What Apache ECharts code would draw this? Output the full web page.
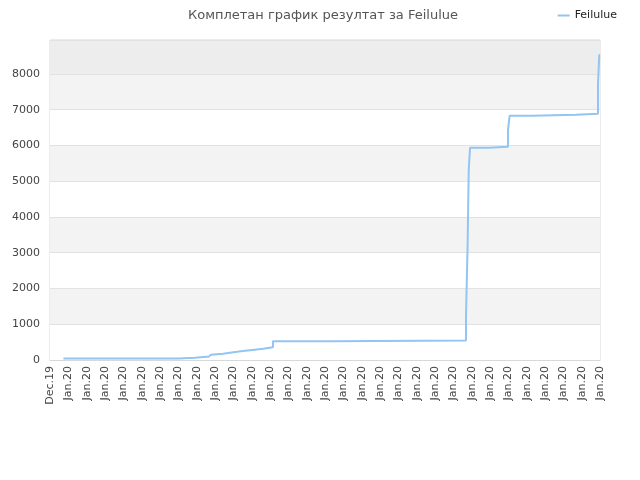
<!DOCTYPE html>
<html>
<head>
<meta charset="utf-8">
<script src="https://cdn.jsdelivr.net/npm/echarts@6/dist/echarts.min.js"></script>
<style>html,body{margin:0;padding:0;background:#fff}#c{width:640px;height:480px}</style>
</head>
<body>
<div id="c"></div>
<script>
const titleText = "Комплетан график резултат за Feilulue";
const seriesName = "Feilulue";
const tickLabels = ["Dec.19"].concat(Array(30).fill("Jan.20"));
const stepX = [0.73, 7.04, 7.91, 8.67, 8.78, 9.44, 9.82, 10.2, 10.64, 11.18, 11.62, 12.16, 15.44, 22.69, 22.78, 22.84, 22.91, 23.95, 24.98, 25.07, 26.29, 28.69, 29.89, 29.96, 30];
const stepY = [40, 65, 95, 150, 175, 205, 230, 260, 290, 315, 355, 525, 545, 1210, 3270, 5310, 5935, 5965, 6430, 6830, 6860, 6885, 7720, 8530, 8530];

// build a step path: value changes at each x
const pts = [];
stepX.forEach((x, i) => {
  if (i > 0) pts.push([x, stepY[i - 1]]);
  pts.push([x, stepY[i]]);
});

const chart = echarts.init(document.getElementById('c'));
chart.setOption({
  animation: false,
  title: {
    text: titleText, left: 318, top: 4, textAlign: 'center',
    textStyle: {fontFamily: 'DejaVu Sans', fontSize: 13, fontWeight: 'normal', color: '#555'}
  },
  legend: {
    right: 18, top: 5, itemWidth: 12, itemHeight: 2, itemGap: 6,
    icon: 'rect',
    textStyle: {fontFamily: 'DejaVu Sans', fontSize: 11, color: '#222'},
    data: [seriesName]
  },
  grid: {left: 50, right: 40, top: 40, bottom: 120, show: true, borderColor: '#d8d8d8', borderWidth: 1, backgroundColor: 'transparent'},
  xAxis: {
    type: 'value', min: 0, max: 30, interval: 1,
    axisLine: {show: true, lineStyle: {color: '#d8d8d8'}},
    axisTick: {show: false},
    splitLine: {show: false},
    axisLabel: {
      rotate: 90, margin: 6, fontFamily: 'DejaVu Sans', fontSize: 11, color: '#444',
      formatter: v => tickLabels[Math.round(v)] || ''
    }
  },
  yAxis: {
    type: 'value', min: 0, max: 8950, interval: 1000,
    axisLine: {show: false}, axisTick: {show: false},
    axisLabel: {showMaxLabel: false, margin: 10, fontFamily: 'DejaVu Sans', fontSize: 11, color: '#444',
      formatter: v => String(v)},
    splitLine: {show: true, lineStyle: {color: '#e2e2e2'}},
    splitArea: {show: true, areaStyle: {color: ['#ffffff','#f3f3f3','#ffffff','#f3f3f3','#ffffff','#f3f3f3','#ffffff','#f3f3f3','#ededed']}}
  },
  series: [{
    name: seriesName, type: 'line', showSymbol: false,
    lineStyle: {color: '#92c4f4', width: 2},
    itemStyle: {color: '#92c4f4'},
    data: pts
  }]
});
</script>
</body>
</html>
